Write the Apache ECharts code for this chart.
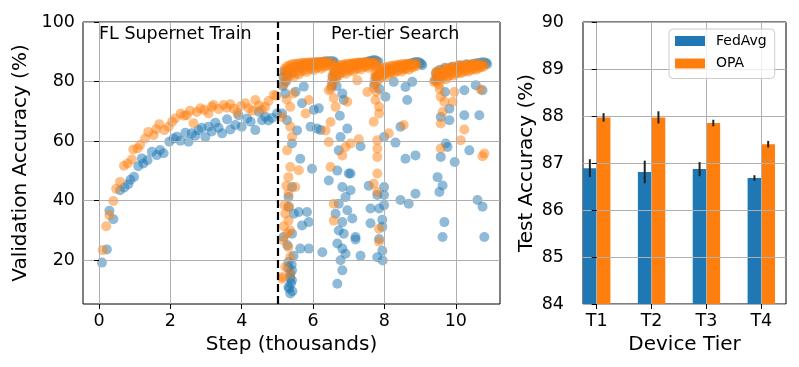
<!DOCTYPE html>
<html><head><meta charset="utf-8">
<script src="https://cdn.jsdelivr.net/npm/echarts@6/dist/echarts.min.js"></script>
<style>html,body{margin:0;padding:0;background:#fff}#c{width:799px;height:367px}</style>
</head><body><div id="c"></div>
<script>
// ---------- Left panel: validation accuracy vs step (thousands) ----------
const stepTicks = [0, 2, 4, 6, 8, 10];
const valAccTicks = [20, 40, 60, 80, 100];
const phaseBoundary = 5;
const phaseLabels = ['FL Supernet Train', 'Per-tier Search'];

const fedavgTrain = [[0.08,19.2],[0.22,23.6],[0.29,36.6],[0.40,33.8],[0.59,43.5],[0.71,44.4],[0.82,45.5],[0.88,47],[0.98,48],[1.10,51.6],[1.20,54.2],[1.24,52.5],[1.36,53.6],[1.48,56.4],[1.62,55.3],[1.71,57],[1.81,55.9],[1.97,59.8],[2.09,60.9],[2.18,61.5],[2.28,60.1],[2.42,62.8],[2.51,59.8],[2.60,62.6],[2.70,61.8],[2.79,63.7],[2.88,64.5],[2.98,61.4],[3.07,64.8],[3.16,63.2],[3.26,66.2],[3.35,64.5],[3.45,62.6],[3.59,67.3],[3.68,63.9],[3.82,65.4],[3.91,68.7],[4.00,64.8],[4.15,67.6],[4.25,66.5],[4.38,63.7],[4.48,69.9],[4.57,67.0],[4.66,68.2],[4.75,66.9],[4.85,67.8],[4.99,69.3]];
const opaTrain = [[0.10,23.4],[0.20,31.4],[0.29,35.1],[0.40,39.9],[0.48,44],[0.59,46.3],[0.70,51.7],[0.80,52.5],[0.92,53.8],[0.96,57.2],[1.08,57.5],[1.15,58.7],[1.29,60.9],[1.38,63.1],[1.53,62],[1.60,64],[1.69,65.7],[1.83,63.7],[1.95,64.8],[2.05,66.5],[2.13,67.6],[2.29,69.3],[2.38,68.5],[2.46,68.7],[2.55,70.2],[2.65,66],[2.74,69.8],[2.84,71],[2.95,70.5],[3.07,69.3],[3.16,71.5],[3.21,72.1],[3.35,70.8],[3.49,72.1],[3.58,71.2],[3.68,72.4],[3.78,70.9],[3.88,69.5],[3.98,71.8],[4.10,72.7],[4.20,71.0],[4.30,70.2],[4.38,73.8],[4.48,72.0],[4.56,70.5],[4.66,71.5],[4.75,73.5],[4.90,75.5],[4.97,75.2]];

const fedavgSearchScatter = [[5.13,69.3],[5.31,82.7],[5.22,76],[5.27,67],[5.55,63.6],[5.41,59.2],[5.93,64.8],[6.11,64.2],[6.16,71],[5.69,72.7],[6.02,70.5],[6.21,63.7],[5.64,54.1],[5.97,50.7],[5.41,44.6],[5.31,41.2],[5.31,37.9],[5.46,35.6],[5.60,36.2],[5.83,36.2],[5.69,31.7],[5.88,32.8],[5.17,27.8],[5.41,28.9],[5.64,23.9],[5.88,23.9],[6.26,22.7],[5.31,19.4],[5.36,15.5],[5.41,13.3],[5.31,11],[5.36,8.8],[5.41,16.6],[5.33,10.5],[5.38,12.2],[5.42,9.6],[5.36,14.0],[5.30,17.5],[5.40,18.5],[5.45,21.5],[5.28,25.0],[5.51,76.6],[5.74,78.3],
[6.82,76],[6.86,73.8],[6.96,64.2],[6.77,61.4],[6.72,56.9],[6.68,50.1],[6.82,44.6],[6.91,41.2],[6.72,39],[6.96,36.8],[6.63,35.6],[6.82,32.8],[7.10,34],[6.72,30],[6.86,28.9],[6.68,25.6],[6.82,23.9],[6.91,22.2],[6.77,20],[6.82,16.6],[6.68,12.1],[6.44,46.8],[7.00,49.1],[7.19,27.8],[6.66,78.5],[6.75,68.5],
[7.33,58.3],[7.05,49.1],[7.05,43.5],[7.56,45],[7.99,44.6],[7.80,41.9],[7.99,41.9],[7.61,37.4],[7.85,37.4],[7.99,38.5],[7.61,32.4],[7.94,33.6],[7.94,31.2],[7.19,27],[7.85,27.1],[7.94,23.2],[7.33,21.5],[7.80,21],[7.95,19.9],[8.31,59.5],[8.59,54.1],[8.87,55.2],[8.45,40.2],[8.68,39],[8.87,42.3],[7.99,61.4],[8.45,64.8],[8.64,73.8],[8.59,78.2],[8.78,79.9],[8.03,74.9],[8.26,79.9],[7.86,77.5],
[9.58,68.1],[9.82,67],[9.72,59.2],[9.77,58],[9.58,54.7],[9.97,53],[9.49,47.9],[9.63,45.1],[9.54,42.9],[9.68,32.8],[9.63,27.8],[10.24,68.7],[10.38,56.9],[10.66,68.7],[10.24,77.1],[10.61,40.2],[10.75,38],[10.80,27.8],[10.56,78.8],[10.75,77.1],[9.82,70.9],[9.70,76.5]];

const opaSearchScatter = [[5.13,68.1],[5.36,71.5],[5.36,64.8],[5.41,61.4],[5.27,56.9],[5.36,51.3],[5.31,47.9],[5.50,44.6],[5.31,42.3],[5.60,50.2],[5.22,35.6],[5.31,33.3],[5.36,30],[5.17,26.7],[5.31,24.4],[5.36,21.1],[5.22,17.7],[5.13,13.8],[5.36,15.5],[5.20,38.5],[5.25,45.0],[5.18,31.4],[5.14,14.4],[5.28,29.0],[5.33,38.0],[5.88,73.8],[5.79,69.3],[5.45,76.0],[5.26,74.0],
[6.44,77.1],[6.63,71.5],[6.49,66.4],[6.44,59.7],[6.49,51.3],[6.58,39],[6.58,33.3],[6.91,58],[6.96,73.2],[6.35,63.6],[6.82,55.2],[6.58,74.5],
[7.24,80.4],[7.52,76.5],[7.75,73.8],[7.85,71.5],[7.70,66.5],[7.85,69.3],[8.54,65.4],[8.12,62.6],[7.28,60.6],[7.80,60.3],[7.80,57.5],[7.80,54.7],[7.80,49.1],[7.70,45.7],[7.80,42.9],[7.85,30.6],[7.85,26.2],[7.05,59.2],[7.78,76.5],
[9.58,74.9],[9.68,73.2],[9.91,73.2],[9.96,76.5],[9.63,69.8],[9.58,65.9],[10.24,63.9],[10.14,60.3],[9.58,57.5],[10.80,55.8],[10.75,54.9],[10.70,77.3],[9.39,79.9],[9.44,82.7],[9.55,77.5]];

const fedavgSearchBand = [[5.15,78.5],[5.17,81.5],[5.20,83.5],[5.24,80.0],[5.28,82.8],[5.35,84.2],[5.42,83.0],[5.50,84.8],[5.58,85.4],[5.66,84.6],[5.75,85.8],[5.85,86.0],[5.95,85.4],[6.05,86.3],[6.15,86.2],[6.25,86.6],[6.35,86.8],[6.45,86.9],[6.55,86.9],[6.60,86.5],
[6.52,78.5],[6.55,81.5],[6.60,83.5],[6.66,82.0],[6.72,84.5],[6.80,83.8],[6.90,85.2],[7.00,84.6],[7.10,85.8],[7.20,85.5],[7.30,86.2],[7.40,86.0],[7.50,86.6],[7.58,86.9],[7.65,87.1],[7.72,87.2],[7.78,87.0],[7.83,86.6],
[7.72,79.0],[7.76,81.5],[7.82,82.0],[7.90,83.2],[8.00,82.8],[8.10,84.0],[8.20,83.6],[8.30,84.6],[8.40,85.0],[8.50,84.6],[8.60,85.5],[8.70,85.8],[8.78,86.2],[8.85,86.5],[8.92,86.6],[8.98,86.4],[9.03,86.0],[9.06,85.5],
[9.42,80.5],[9.45,83.0],[9.50,81.0],[9.56,84.0],[9.62,82.0],[9.70,84.6],[9.80,83.0],[9.90,85.0],[10.00,84.2],[10.10,85.5],[10.20,84.8],[10.30,85.8],[10.40,85.4],[10.50,86.0],[10.60,86.2],[10.70,86.4],[10.78,86.5],[10.85,86.3],[10.88,85.8]];

const opaSearchBand = [[5.18,79.0],[5.18,82.0],[5.20,84.2],[5.25,80.6],[5.25,83.1],[5.26,85.0],[5.32,81.8],[5.32,84.0],[5.33,85.4],[5.39,82.5],[5.39,84.5],[5.40,85.7],[5.46,81.6],[5.46,84.1],[5.47,85.9],[5.53,83.0],[5.53,85.0],[5.54,86.0],[5.60,82.4],[5.60,84.8],[5.61,86.1],[5.67,83.4],[5.67,85.3],[5.68,86.2],[5.74,83.9],[5.74,85.5],[5.75,86.3],[5.81,83.2],[5.81,85.2],[5.82,86.3],[5.88,84.1],[5.88,85.7],[5.89,86.4],[5.95,84.4],[5.95,85.9],[5.96,86.5],[6.02,83.8],[6.02,85.6],[6.03,86.5],[6.09,84.6],[6.09,86.0],[6.10,86.6],[6.16,84.9],[6.16,86.1],[6.17,86.6],[6.23,84.3],[6.23,85.8],[6.24,86.6],[6.30,85.0],[6.30,86.2],[6.31,86.7],[6.37,85.2],[6.37,86.3],[6.44,85.4],[6.44,86.4],[6.51,85.6],[6.51,86.5],
[6.50,77.5],[6.52,80.0],[6.54,82.0],[6.57,79.5],[6.58,82.8],[6.60,84.3],[6.64,81.2],[6.65,83.6],[6.66,85.0],[6.71,82.0],[6.72,84.2],[6.73,85.4],[6.78,82.8],[6.79,84.6],[6.80,85.6],[6.85,83.2],[6.86,85.0],[6.87,85.8],[6.92,82.6],[6.93,84.8],[6.94,85.9],[6.99,83.6],[7.00,85.3],[7.01,86.0],[7.06,84.0],[7.07,85.5],[7.08,86.1],[7.13,83.4],[7.14,85.4],[7.15,86.2],[7.20,84.3],[7.21,85.8],[7.22,86.3],[7.27,84.6],[7.28,86.0],[7.29,86.4],[7.34,84.1],[7.35,85.8],[7.36,86.4],[7.41,84.9],[7.42,86.1],[7.43,86.5],[7.48,85.1],[7.49,86.2],[7.50,86.5],[7.55,84.6],[7.56,86.0],[7.57,86.6],[7.62,85.3],[7.63,86.3],[7.69,85.5],[7.70,86.4],[7.76,85.6],[7.77,86.5],
[7.70,78.0],[7.72,80.5],[7.74,82.5],[7.78,79.5],[7.79,81.8],[7.80,83.4],[7.85,80.8],[7.86,82.8],[7.87,84.0],[7.92,81.6],[7.93,83.4],[7.94,84.4],[7.99,82.2],[8.00,83.8],[8.01,84.7],[8.06,81.8],[8.07,83.6],[8.08,84.9],[8.13,82.7],[8.14,84.2],[8.15,85.1],[8.20,83.1],[8.21,84.5],[8.22,85.3],[8.27,82.8],[8.28,84.4],[8.29,85.4],[8.34,83.5],[8.35,84.9],[8.36,85.6],[8.41,83.8],[8.42,85.1],[8.43,85.7],[8.48,83.4],[8.49,85.0],[8.50,85.8],[8.55,84.1],[8.56,85.4],[8.57,85.9],[8.62,84.4],[8.63,85.6],[8.64,86.0],[8.69,84.0],[8.70,85.5],[8.71,86.1],[8.76,84.7],[8.77,85.8],[8.83,85.0],[8.84,86.0],[8.90,85.2],[8.91,86.1],
[9.45,80.0],[9.46,82.0],[9.48,83.5],[9.52,79.0],[9.53,81.2],[9.55,83.0],[9.59,80.6],[9.60,82.4],[9.62,83.8],[9.66,81.4],[9.67,83.0],[9.69,84.2],[9.73,80.8],[9.74,82.8],[9.76,84.4],[9.80,81.9],[9.81,83.4],[9.83,84.6],[9.87,82.3],[9.88,83.7],[9.90,84.8],[9.94,82.0],[9.95,83.6],[9.97,85.0],[10.01,82.7],[10.02,84.0],[10.04,85.1],[10.08,83.0],[10.09,84.3],[10.11,85.3],[10.15,82.8],[10.16,84.2],[10.18,85.4],[10.22,83.3],[10.23,84.6],[10.25,85.5],[10.29,83.6],[10.30,84.8],[10.32,85.6],[10.36,83.4],[10.37,84.7],[10.39,85.7],[10.43,83.9],[10.44,85.0],[10.46,85.8],[10.50,84.2],[10.51,85.2],[10.53,85.9],[10.57,84.0],[10.58,85.1],[10.60,86.0],[10.64,84.5],[10.65,85.4],[10.71,84.8],[10.72,85.6],[10.78,85.0],[10.79,85.8]];

// ---------- Right panel: test accuracy per device tier ----------
const tiers = ['T1', 'T2', 'T3', 'T4'];
const testAccTicks = [84, 85, 86, 87, 88, 89, 90];
const fedavgMean = [86.89, 86.81, 86.87, 86.68];
const fedavgErr  = [0.19, 0.24, 0.15, 0.06];
const opaMean    = [87.97, 87.97, 87.85, 87.40];
const opaErr     = [0.09, 0.13, 0.07, 0.07];

const BLUE = '#1f77b4', ORANGE = '#ff7f0e';
const FONT = 'DejaVu Sans';
const tickFont = {fontFamily: FONT, fontSize: 17.5, color: '#000'};
const nameFont = {fontFamily: FONT, fontSize: 20, color: '#000'};
const gridLine = {show: true, lineStyle: {color: '#b0b0b0', width: 1}};
const tick = {show: true, inside: false, length: 5, lineStyle: {color: '#000', width: 1}};

const chart = echarts.init(document.getElementById('c'), null, {renderer: 'canvas'});

function barRender(side, color) {
  return function (params, api) {
    const i = api.value(0), v = api.value(1);
    const x0 = side < 0 ? i - 0.25 : i;
    const a = api.coord([x0, v]);
    const b = api.coord([x0 + 0.25, testAccTicks[0]]);
    return {type: 'rect', shape: {x: a[0], y: a[1], width: b[0] - a[0], height: b[1] - a[1]}, style: {fill: color}};
  };
}
function errRender(side) {
  return function (params, api) {
    const i = api.value(0), lo = api.value(1), hi = api.value(2);
    const xc = side < 0 ? i - 0.125 : i + 0.125;
    const a = api.coord([xc, lo]);
    const b = api.coord([xc, hi]);
    return {type: 'line', shape: {x1: a[0], y1: a[1], x2: b[0], y2: b[1]}, style: {stroke: '#222', lineWidth: 2}};
  };
}

const option = {
  animation: false,
  backgroundColor: '#fff',
  grid: [
    {left: 83, top: 22, width: 417, height: 282, show: true, borderColor: '#000', borderWidth: 1, backgroundColor: 'transparent'},
    {left: 583, top: 22, width: 203, height: 282, show: true, borderColor: '#000', borderWidth: 1, backgroundColor: 'transparent'}
  ],
  xAxis: [
    {gridIndex: 0, type: 'value', min: -0.45, max: 11.24, z: 3,
     name: 'Step (thousands)', nameLocation: 'middle', nameGap: 27, nameTextStyle: nameFont,
     axisLine: {show: false}, axisTick: Object.assign({customValues: stepTicks}, tick),
     axisLabel: Object.assign({customValues: stepTicks, margin: 8}, tickFont), splitLine: gridLine},
    {gridIndex: 1, type: 'value', min: -0.25, max: 3.45, z: 3,
     name: 'Device Tier', nameLocation: 'middle', nameGap: 27, nameTextStyle: nameFont,
     axisLine: {show: false}, axisTick: Object.assign({customValues: [0, 1, 2, 3]}, tick),
     axisLabel: Object.assign({customValues: [0, 1, 2, 3], margin: 8, formatter: v => tiers[Math.round(v)]}, tickFont),
     splitLine: gridLine}
  ],
  yAxis: [
    {gridIndex: 0, type: 'value', min: 5.3, max: 100, z: 3,
     name: 'Validation Accuracy (%)', nameLocation: 'middle', nameGap: 48, nameTextStyle: nameFont,
     axisLine: {show: false}, axisTick: Object.assign({customValues: valAccTicks}, tick),
     axisLabel: Object.assign({customValues: valAccTicks, margin: 8}, tickFont), splitLine: gridLine},
    {gridIndex: 1, type: 'value', min: 84, max: 90, interval: 1, z: 3,
     name: 'Test Accuracy (%)', nameLocation: 'middle', nameGap: 46, nameTextStyle: nameFont,
     axisLine: {show: false}, axisTick: tick,
     axisLabel: Object.assign({margin: 19}, tickFont), splitLine: gridLine}
  ],
  legend: {
    data: ['FedAvg', 'OPA'], orient: 'vertical', left: 669, top: 29,
    padding: [5, 8, 8, 6], itemWidth: 30, itemHeight: 10, itemGap: 8.5, icon: 'rect',
    backgroundColor: 'rgba(255,255,255,0.8)', borderColor: '#cccccc', borderWidth: 1, borderRadius: 4,
    textStyle: {fontFamily: FONT, fontSize: 14, color: '#000', padding: [0, 0, 0, 6]}
  },
  graphic: [
    {type: 'text', left: 99, top: 25, z: 10, style: {text: phaseLabels[0], fontFamily: FONT, fontSize: 17.5, fill: '#000'}},
    {type: 'text', left: 331, top: 25, z: 10, style: {text: phaseLabels[1], fontFamily: FONT, fontSize: 17.5, fill: '#000'}}
  ],
  series: [
    {name: 'FedAvgVal', type: 'scatter', xAxisIndex: 0, yAxisIndex: 0, symbolSize: 10, z: 2,
     itemStyle: {color: BLUE, opacity: 0.5},
     data: fedavgTrain.concat(fedavgSearchScatter, fedavgSearchBand)},
    {name: 'OPAVal', type: 'scatter', xAxisIndex: 0, yAxisIndex: 0, symbolSize: 10, z: 2,
     itemStyle: {color: ORANGE, opacity: 0.5},
     data: opaTrain.concat(opaSearchScatter, opaSearchBand),
     markLine: {silent: true, symbol: 'none', label: {show: false}, animation: false,
       lineStyle: {color: '#000', type: [8, 4], width: 2.2},
       data: [{xAxis: phaseBoundary}]}},
    {name: 'FedAvg', type: 'custom', xAxisIndex: 1, yAxisIndex: 1, z: 2, itemStyle: {color: BLUE},
     data: fedavgMean.map((v, i) => [i, v]), renderItem: barRender(-1, BLUE)},
    {name: 'OPA', type: 'custom', xAxisIndex: 1, yAxisIndex: 1, z: 2, itemStyle: {color: ORANGE},
     data: opaMean.map((v, i) => [i, v]), renderItem: barRender(1, ORANGE)},
    {name: 'FedAvgErr', type: 'custom', xAxisIndex: 1, yAxisIndex: 1, z: 5,
     data: fedavgMean.map((v, i) => [i, v - fedavgErr[i], v + fedavgErr[i]]), renderItem: errRender(-1)},
    {name: 'OPAErr', type: 'custom', xAxisIndex: 1, yAxisIndex: 1, z: 5,
     data: opaMean.map((v, i) => [i, v - opaErr[i], v + opaErr[i]]), renderItem: errRender(1)}
  ]
};
chart.setOption(option);
</script></body></html>
